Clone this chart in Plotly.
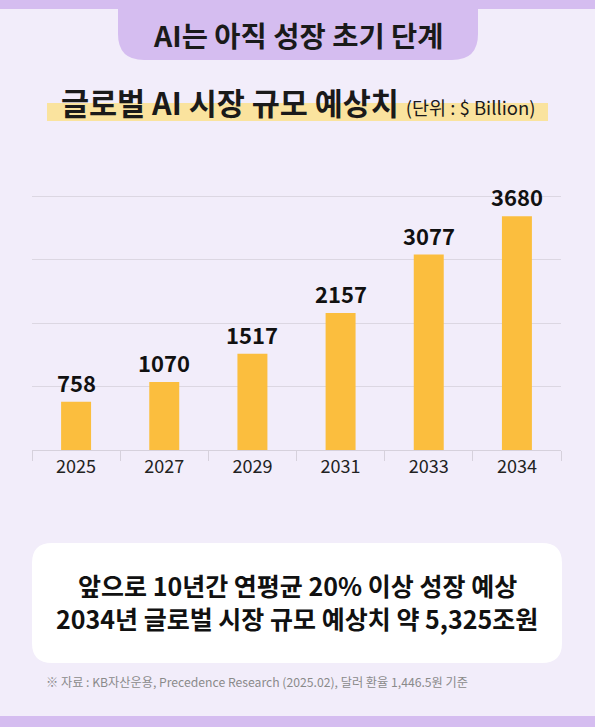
import plotly.graph_objects as go

years = ["2025", "2027", "2029", "2031", "2033", "2034"]
market_size = [758, 1070, 1517, 2157, 3077, 3680]
y_ticks = [0, 1000, 2000, 3000, 4000]

W, H = 595, 727
L, R, T, B = 32, 34, 195, 277
PW = W - L - R
PH = H - T - B
Y_TOP = 4016

BG = "#F2EDFA"
PURPLE = "#D5BDF0"
BAR = "#FBBE3E"
FONT = "Noto Sans CJK KR"


def px(x):
    return (x - L) / PW


def py(y):
    return (H - B - y) / PH


def rrect(x0, y0, x1, y1, rt, rb):
    pts = []
    pts.append(f"M{px(x0 + rt)},{py(y0)}")
    pts.append(f"L{px(x1 - rt)},{py(y0)}")
    pts.append(f"Q{px(x1)},{py(y0)} {px(x1)},{py(y0 + rt)}")
    pts.append(f"L{px(x1)},{py(y1 - rb)}")
    pts.append(f"Q{px(x1)},{py(y1)} {px(x1 - rb)},{py(y1)}")
    pts.append(f"L{px(x0 + rb)},{py(y1)}")
    pts.append(f"Q{px(x0)},{py(y1)} {px(x0)},{py(y1 - rb)}")
    pts.append(f"L{px(x0)},{py(y0 + rt)}")
    pts.append(f"Q{px(x0)},{py(y0)} {px(x0 + rt)},{py(y0)}")
    pts.append("Z")
    return " ".join(pts)


fig = go.Figure()
fig.add_trace(go.Bar(
    x=years, y=market_size, marker=dict(color=BAR, line=dict(width=0)),
    hoverinfo="skip",
))

shapes = [
    dict(type="rect", xref="paper", yref="paper", x0=px(-5), x1=px(W + 5), y0=py(-5), y1=py(9),
         fillcolor=PURPLE, line=dict(width=0), layer="below"),
    dict(type="path", xref="paper", yref="paper", path=rrect(118, -30, 478, 60, 0, 26),
         fillcolor=PURPLE, line=dict(width=0), layer="below"),
    dict(type="rect", xref="paper", yref="paper", x0=px(47), x1=px(548), y0=py(103), y1=py(121),
         fillcolor="#FAE39E", line=dict(width=0), layer="below"),
    dict(type="path", xref="paper", yref="paper", path=rrect(32, 543, 562, 663, 20, 20),
         fillcolor="#FFFFFF", line=dict(width=0), layer="below"),
    dict(type="rect", xref="paper", yref="paper", x0=px(-5), x1=px(W + 5), y0=py(716), y1=py(H + 5),
         fillcolor=PURPLE, line=dict(width=0), layer="below"),
]

annotations = [
    dict(xref="paper", yref="paper", x=px(298), y=py(34), text="<b>AI는 아직 성장 초기 단계</b>",
         showarrow=False, font=dict(family=FONT, size=28.5, color="#1a1a1a"), xanchor="center", yanchor="middle"),
    dict(xref="paper", yref="paper", x=px(59), y=py(102),
         text="<b>글로벌 AI 시장 규모 예상치</b> <span style='font-size:18.5px'>(단위 : $ Billion)</span>",
         showarrow=False, font=dict(family=FONT, size=30.5, color="#1a1a1a"), xanchor="left", yanchor="middle"),
    dict(xref="paper", yref="paper", x=px(297), y=py(585), text="<b>앞으로 10년간 연평균 20% 이상 성장 예상</b>",
         showarrow=False, font=dict(family=FONT, size=25, color="#111111"), xanchor="center", yanchor="middle"),
    dict(xref="paper", yref="paper", x=px(297), y=py(618), text="<b>2034년 글로벌 시장 규모 예상치 약 5,325조원</b>",
         showarrow=False, font=dict(family=FONT, size=25, color="#111111"), xanchor="center", yanchor="middle"),
    dict(xref="paper", yref="paper", x=px(44), y=py(682),
         text="※ 자료 : KB자산운용, Precedence Research (2025.02), 달러 환율 1,446.5원 기준",
         showarrow=False, font=dict(family=FONT, size=12.2, color="#8a8a8a"), xanchor="left", yanchor="middle"),
]

for i, v in enumerate(market_size):
    annotations.append(dict(
        x=i, y=v, xref="x", yref="y", text=f"<b>{v}</b>", showarrow=False,
        xanchor="center", yanchor="bottom", yshift=2, font=dict(family=FONT, size=22, color="#111111"),
    ))

fig.update_layout(
    width=W, height=H,
    margin=dict(l=L, r=R, t=T, b=B, pad=0, autoexpand=False),
    paper_bgcolor=BG, plot_bgcolor=BG,
    showlegend=False,
    bargap=0.66,
    shapes=shapes,
    annotations=annotations,
    xaxis=dict(
        type="category", automargin=False, tickangle=0,
        range=[-0.5, len(years) - 0.5], autorange=False,
        showline=True, linecolor="#D6D1DC", linewidth=1,
        ticks="outside", tickson="boundaries", ticklen=10, tickcolor="#D6D1DC", tickwidth=1,
        tickfont=dict(family=FONT, size=18, color="#222222"), showgrid=False,
    ),
    yaxis=dict(
        range=[0, Y_TOP], autorange=False, tickvals=y_ticks, showticklabels=False, automargin=False,
        showgrid=True, gridcolor="#DCD7E2", gridwidth=1, zeroline=False,
    ),
)

fig.write_html(
    "out.html",
    config={"displayModeBar": False, "staticPlot": True},
    post_script="document.body.style.margin='0';document.body.style.background='" + BG + "';",
)
